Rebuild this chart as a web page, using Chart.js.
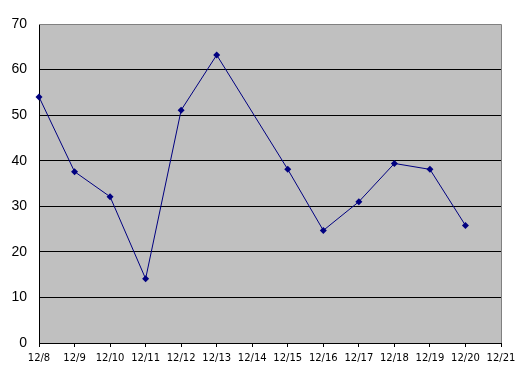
<!DOCTYPE html>
<html>
<head>
<meta charset="utf-8">
<script src="https://cdn.jsdelivr.net/npm/chart.js@4"></script>
<style>
  html, body { margin: 0; padding: 0; background: #fff; }
  #wrap { width: 529px; height: 376px; }
</style>
</head>
<body>
<div id="wrap"><canvas id="lineChart"></canvas></div>
<script>
// dates along the bottom, value per day (12/14 and 12/21 have no point)
var dayLabels = ['12/8','12/9','12/10','12/11','12/12','12/13','12/14','12/15','12/16','12/17','12/18','12/19','12/20','12/21'];
var dayValues = [54, 37.6, 32.1, 14.1, 51.1, 63.2, null, 38.1, 24.7, 31.0, 39.4, 38.1, 25.8, null];
var yMin = 0, yMax = 70, yStep = 10;

// grey plot area + grey top/right frame, like the old spreadsheet charts
var plotFrame = {
    id: 'plotFrame',
    beforeDraw: function(chart) {
        var a = chart.chartArea, c = chart.ctx;
        c.save();
        c.fillStyle = '#c0c0c0';
        c.fillRect(a.left, a.top, a.right - a.left, a.bottom - a.top);
        c.restore();
    },
    afterDatasetsDraw: function(chart) {
        var a = chart.chartArea, c = chart.ctx;
        c.save();
        c.strokeStyle = '#808080';
        c.lineWidth = 1;
        c.beginPath();
        c.moveTo(a.left, a.top + 0.5);
        c.lineTo(a.right + 0.5, a.top + 0.5);
        c.lineTo(a.right + 0.5, a.bottom);
        c.stroke();
        c.restore();
    }
};

var ctx = document.getElementById('lineChart').getContext('2d');
var chart = new Chart(ctx, {
    type: 'line',
    data: {
        labels: dayLabels,
        datasets: [{
            data: dayValues,
            borderColor: '#000080',
            backgroundColor: '#000080',
            borderWidth: 1,
            pointStyle: 'rectRot',
            pointRadius: 3.5,
            pointBorderWidth: 0,
            tension: 0,
            spanGaps: true
        }]
    },
    options: {
        responsive: true,
        maintainAspectRatio: false,
        animation: false,
        layout: { padding: { top: 24, right: 28, left: 0, bottom: 0 } },
        plugins: { legend: { display: false }, tooltip: { enabled: false } },
        scales: {
            x: {
                offset: false,
                afterFit: function(s) { s.height = 33; },
                grid: { drawOnChartArea: false, drawTicks: true, tickLength: 4, color: '#000' },
                border: { color: '#000', width: 1 },
                ticks: {
                    autoSkip: false, maxRotation: 0, minRotation: 0, padding: 5,
                    color: '#000', font: { family: 'DejaVu Sans', size: 10 }
                }
            },
            y: {
                min: yMin, max: yMax,
                afterFit: function(s) { s.width = 39; },
                grid: {
                    drawTicks: false,
                    color: function(c) { return c.tick && c.tick.value === yMax ? '#808080' : '#000'; }
                },
                border: { color: '#000', width: 1 },
                ticks: {
                    stepSize: yStep, padding: 12,
                    color: '#000', font: { family: 'Liberation Sans', size: 14 }
                }
            }
        }
    },
    plugins: [plotFrame]
});
</script>
</body>
</html>
